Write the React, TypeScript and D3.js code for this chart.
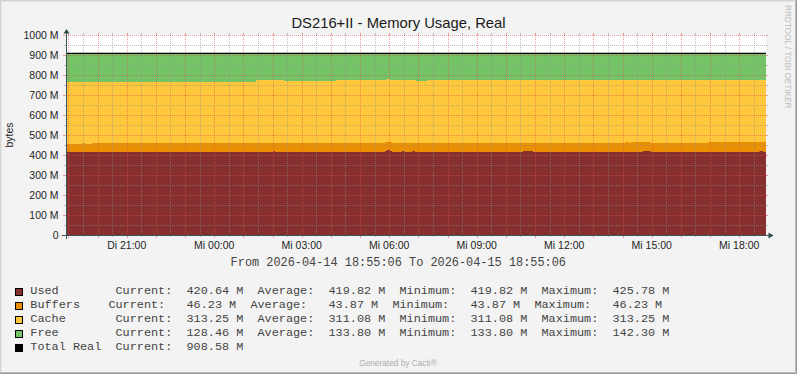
import React from "react";
import * as d3 from "d3";

const W = 797;
const H = 374;

const TITLE = "DS216+II - Memory Usage, Real";
const Y_LABEL = "bytes";
const PERIOD_TEXT = "From 2026-04-14 18:55:06 To 2026-04-15 18:55:06";
const WATERMARK = "RRDTOOL / TOBI OETIKER";
const FOOTER = "Generated by Cacti\u00AE";

const START = new Date(2026, 3, 14, 18, 55, 6);
const END = new Date(2026, 3, 15, 18, 55, 6);

// sample times, minutes after START (values hold until next sample)
const sampleMinutes = [0, 33, 39, 53, 391, 426, 430, 448, 555, 656, 660, 667, 671, 691, 697, 712, 718, 720, 743, 940, 961, 1150, 1158, 1162, 1187, 1203, 1321, 1426, 1434];
const used = [415, 415, 415, 415, 415, 420, 415, 415, 415, 420, 425, 420, 415, 420, 415, 420, 415, 415, 415, 420, 415, 415, 415, 415, 420, 415, 415, 420, 415];
const buffers = [40, 45, 40, 45, 45, 40, 45, 45, 45, 45, 40, 45, 45, 40, 45, 40, 45, 45, 45, 40, 45, 50, 45, 50, 45, 45, 50, 45, 50];
const cache = [310, 305, 310, 305, 315, 315, 315, 310, 315, 310, 315, 310, 315, 315, 315, 315, 315, 310, 315, 315, 315, 310, 315, 310, 310, 315, 310, 310, 310];
const free = [143.6, 143.6, 143.6, 143.6, 133.6, 133.6, 133.6, 138.6, 133.6, 133.6, 128.6, 133.6, 133.6, 133.6, 133.6, 133.6, 133.6, 138.6, 133.6, 133.6, 133.6, 133.6, 133.6, 133.6, 133.6, 133.6, 133.6, 133.6, 133.6];
const totalReal = 908.58;

const yTickValues = [0, 100, 200, 300, 400, 500, 600, 700, 800, 900, 1000];
const yTickLabels = ["0", "100 M", "200 M", "300 M", "400 M", "500 M", "600 M", "700 M", "800 M", "900 M", "1000 M"];
const xTickLabels = ["Di 21:00", "Mi 00:00", "Mi 03:00", "Mi 06:00", "Mi 09:00", "Mi 12:00", "Mi 15:00", "Mi 18:00"];

const legendNames = ["Used", "Buffers", "Cache", "Free", "Total Real"];
const legendColors = ["#872E2E", "#EA8F00", "#FFC73B", "#74C366", "#000000"];
const legendCurrent = ["420.64 M", "46.23 M", "313.25 M", "128.46 M", "908.58 M"];
const legendAverage = ["419.82 M", "43.87 M", "311.08 M", "133.80 M", ""];
const legendMinimum = ["419.82 M", "43.87 M", "311.08 M", "133.80 M", ""];
const legendMaximum = ["425.78 M", "46.23 M", "313.25 M", "142.30 M", ""];

// layout
const X0 = 66;
const X1 = 766;
const Y0 = 235;
const Y1 = 35;
const SANS = "'Liberation Sans', Arial, sans-serif";
const MONO = "'Liberation Mono', 'Courier New', monospace";
const GRID = "rgba(143,143,143,0.55)";
const MGRID = "rgba(222,79,79,0.55)";
const AXIS = "#3A5656";

export default function App() {
  const x = d3.scaleTime().domain([START, END]).range([X0, X1]);
  const y = d3.scaleLinear().domain([0, 1000]).range([Y0, Y1]);

  const n = sampleMinutes.length;
  const pts = sampleMinutes.map((m, i) => ({
    t: new Date(START.getTime() + m * 60000),
    v: [used[i], buffers[i], cache[i], free[i]],
  }));
  pts.push({ t: END, v: pts[n - 1].v });

  const stack = d3.stack<any>().keys([0, 1, 2, 3] as any).value((d: any, k: any) => d.v[k]);
  const layers = stack(pts as any);
  const area = d3
    .area<any>()
    .x((d: any) => x(d.data.t))
    .y0((d: any) => y(d[0]))
    .y1((d: any) => y(d[1]))
    .curve(d3.curveStepAfter);
  const seriesColors = legendColors.slice(0, 4);

  const hours = d3.timeHour.range(START, END);
  const halfHours = d3.timeMinute.every(30)!.range(START, END).filter((d) => d.getMinutes() !== 0);
  const labelTimes = d3.timeHour.every(3)!.range(START, END);
  const minorY = d3.range(50, 1000, 100);

  const px = (d: Date) => Math.round(x(d)) + 0.5;
  const py = (v: number) => Math.round(y(v)) + 0.5;

  const LX = 30.3;
  const CW = 7.1;
  const colsStd = [12, 22, 32, 42, 52, 62, 72, 82];
  const colsBuf = [11, 22, 31, 42, 51, 62, 71, 82];

  return (
    <svg width={W} height={H} style={{ display: "block", position: "absolute", left: 0, top: 0 }}>
      <rect x={0} y={0} width={W} height={H} fill="#F3F3F3" />
      {/* shade border */}
      <path d={`M0.5,${H} L0.5,0.5 L${W},0.5`} fill="none" stroke="#D4D4D4" strokeWidth={1} />
      <path d={`M1.5,${H - 1} L1.5,1.5 L${W - 1},1.5`} fill="none" stroke="#E4E4E4" strokeWidth={1} />
      <path d={`M0,${H - 0.5} L${W - 0.5},${H - 0.5} L${W - 0.5},0`} fill="none" stroke="#9A9A9A" strokeWidth={1} />
      <path d={`M1,${H - 1.5} L${W - 1.5},${H - 1.5} L${W - 1.5},1`} fill="none" stroke="#B8B8B8" strokeWidth={1} />

      <rect x={X0} y={Y1} width={X1 - X0} height={Y0 - Y1} fill="#FFFFFF" />

      {layers.map((layer: any, i: number) => (
        <path key={i} d={area(layer) || ""} fill={seriesColors[i]} />
      ))}

      {/* minor grid */}
      {halfHours.map((d, i) => (
        <g key={"hv" + i}>
          <line x1={px(d)} x2={px(d)} y1={Y1} y2={Y0} stroke={GRID} strokeDasharray="1,1" />
          <line x1={px(d)} x2={px(d)} y1={Y1 - 2} y2={Y1} stroke={GRID} />
          <line x1={px(d)} x2={px(d)} y1={Y0} y2={Y0 + 2} stroke={GRID} />
        </g>
      ))}
      {minorY.map((v, i) => (
        <g key={"mh" + i}>
          <line x1={X0} x2={X1} y1={py(v)} y2={py(v)} stroke={GRID} strokeDasharray="1,1" />
          <line x1={X0 - 2} x2={X0} y1={py(v)} y2={py(v)} stroke={GRID} />
          <line x1={X1} x2={X1 + 2} y1={py(v)} y2={py(v)} stroke={GRID} />
        </g>
      ))}
      {/* major grid */}
      {hours.map((d, i) => (
        <g key={"mv" + i}>
          <line x1={px(d)} x2={px(d)} y1={Y1} y2={Y0} stroke={MGRID} strokeDasharray="1,1" />
          <line x1={px(d)} x2={px(d)} y1={Y1 - 2} y2={Y1} stroke={MGRID} />
          <line x1={px(d)} x2={px(d)} y1={Y0} y2={Y0 + 3} stroke={MGRID} />
        </g>
      ))}
      {yTickValues.map((v, i) => (
        <g key={"Mh" + i}>
          <line x1={X0} x2={X1} y1={py(v)} y2={py(v)} stroke={MGRID} strokeDasharray="1,1" />
          <line x1={X0 - 3} x2={X0} y1={py(v)} y2={py(v)} stroke={MGRID} />
          <line x1={X1} x2={X1 + 2} y1={py(v)} y2={py(v)} stroke={MGRID} />
        </g>
      ))}

      {/* total real line */}
      <line x1={X0} x2={X1} y1={y(totalReal)} y2={y(totalReal)} stroke="#000" strokeWidth={1.3} />

      {/* axes */}
      <line x1={X0 - 4} x2={X1 + 3} y1={Y0 + 0.5} y2={Y0 + 0.5} stroke={AXIS} />
      <line x1={X0 + 0.5} x2={X0 + 0.5} y1={Y0 + 4} y2={Y1 - 2} stroke={AXIS} />
      <path d={`M${X0 + 0.5},${Y1 - 6} L${X0 - 2.5},${Y1 - 1.5} L${X0 + 3.5},${Y1 - 1.5} Z`} fill="#2F4A4A" />
      <path d={`M${X1 + 7.5},${Y0 + 0.5} L${X1 + 2.5},${Y0 - 2.5} L${X1 + 2.5},${Y0 + 3.5} Z`} fill="#2F4A4A" />

      {/* y labels */}
      {yTickValues.map((v, i) => (
        <text key={"yl" + i} x={58.5} y={y(v) + 3.7} textAnchor="end" fontFamily={SANS} fontSize={10.5} fill="#1E1E1E">
          {yTickLabels[i]}
        </text>
      ))}
      {/* x labels */}
      {labelTimes.map((d, i) => (
        <text key={"xl" + i} x={x(d)} y={249} textAnchor="middle" fontFamily={SANS} fontSize={10.5} fill="#1E1E1E">
          {xTickLabels[i]}
        </text>
      ))}

      <text x={398.5} y={28} textAnchor="middle" fontFamily={SANS} fontSize={14.8} fill="#1A1A1A">
        {TITLE}
      </text>
      <text transform={`translate(12.5,${(Y0 + Y1) / 2}) rotate(-90)`} textAnchor="middle" fontFamily={SANS} fontSize={10.5} fill="#1E1E1E">
        {Y_LABEL}
      </text>
      <text transform="translate(785,5) rotate(90)" fontFamily={SANS} fontSize={8.2} fill="#BDBDBD">
        {WATERMARK}
      </text>
      <text x={398.3} y={265.5} textAnchor="middle" fontFamily={MONO} fontSize={11.9} fill="#444444">
        {PERIOD_TEXT}
      </text>

      {/* legend */}
      {legendNames.map((name, i) => {
        const by = 294 + i * 14;
        const cols = i === 1 ? colsBuf : colsStd;
        const pieces: [number, string][] = [[0, name], [cols[0], "Current:"], [cols[1], legendCurrent[i]]];
        if (legendAverage[i]) {
          pieces.push([cols[2], "Average:"], [cols[3], legendAverage[i]]);
          pieces.push([cols[4], "Minimum:"], [cols[5], legendMinimum[i]]);
          pieces.push([cols[6], "Maximum:"], [cols[7], legendMaximum[i]]);
        }
        return (
          <g key={"lg" + i}>
            <rect x={15.5} y={by - 5.5} width={7} height={7} fill={legendColors[i]} stroke="#000" strokeWidth={1} />
            {pieces.map(([c, s], j) => (
              <text key={j} x={LX + c * CW} y={by} fontFamily={MONO} fontSize={11.83} fill="#444444" style={{ whiteSpace: "pre" }}>
                {s}
              </text>
            ))}
          </g>
        );
      })}

      <text x={398} y={366} textAnchor="middle" fontFamily={SANS} fontSize={8.3} fill="#AEAEAE">
        {FOOTER}
      </text>
    </svg>
  );
}
